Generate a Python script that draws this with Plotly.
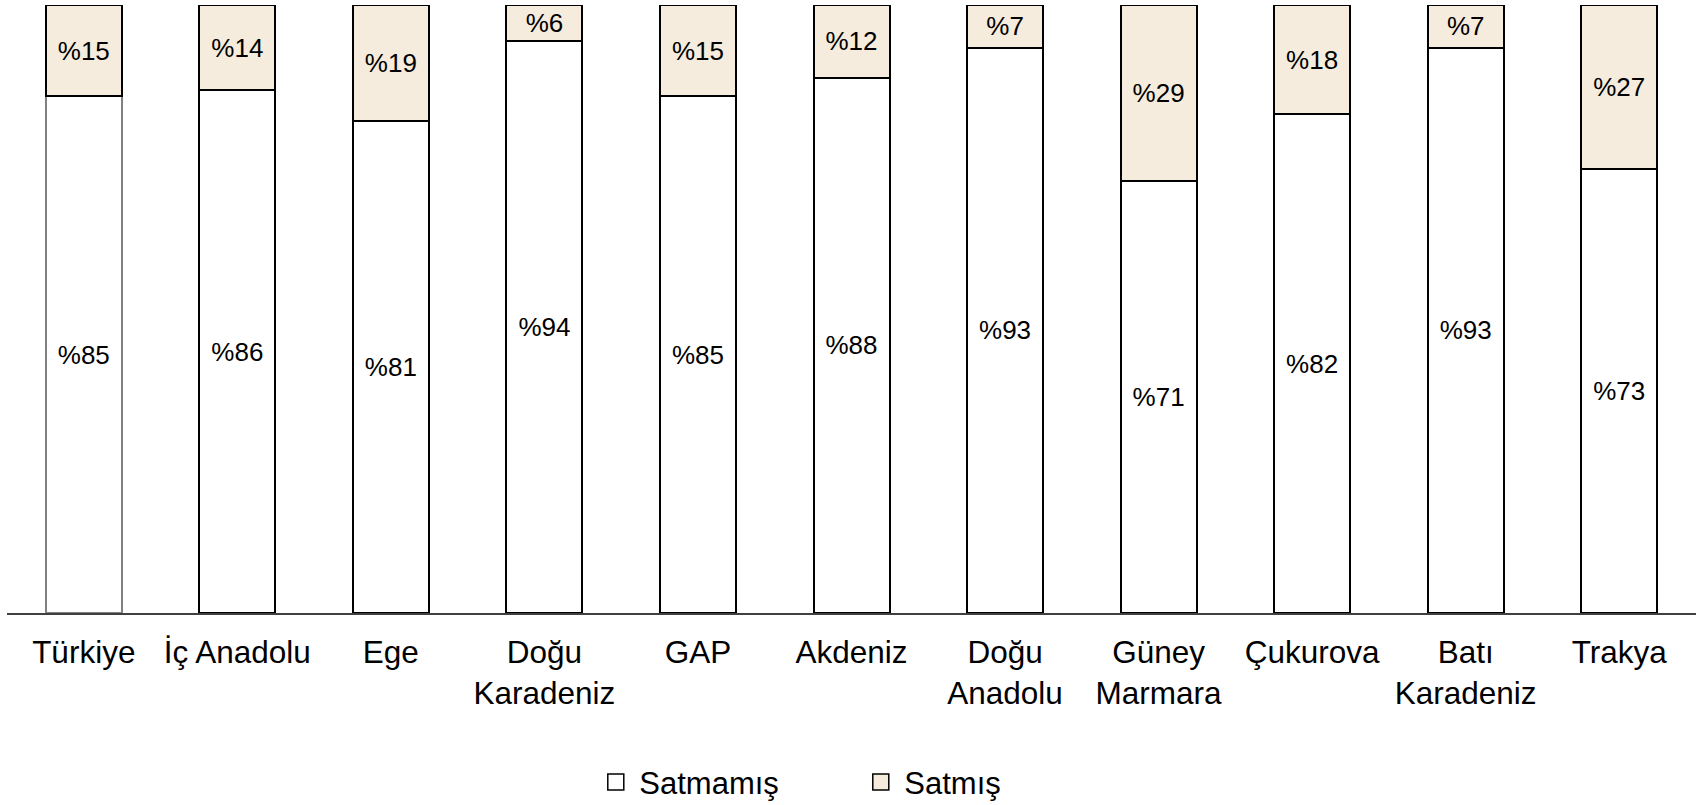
import plotly.graph_objects as go

categories = ["Türkiye", "İç Anadolu", "Ege", "Doğu<br>Karadeniz", "GAP", "Akdeniz",
              "Doğu<br>Anadolu", "Güney<br>Marmara", "Çukurova", "Batı<br>Karadeniz", "Trakya"]
satmamis = [85, 86, 81, 94, 85, 88, 93, 71, 82, 93, 73]
satmis = [15, 14, 19, 6, 15, 12, 7, 29, 18, 7, 27]

FONT = "Liberation Sans, Arial, sans-serif"
BEIGE = "#F6ECDD"

satmamis_line = ["#808080"] + ["#000000"] * (len(categories) - 1)

fig = go.Figure()
fig.add_trace(go.Bar(
    x=categories, y=satmamis, name="Satmamış", showlegend=False,
    marker=dict(color="white", line=dict(color=satmamis_line, width=2)),
    text=[f"%{v}" for v in satmamis], textposition="inside", insidetextanchor="middle",
    textfont=dict(family=FONT, size=26, color="black"), hoverinfo="skip",
))
fig.add_trace(go.Bar(
    x=categories, y=satmis, name="Satmış", showlegend=False,
    marker=dict(color=BEIGE, line=dict(color="black", width=2)),
    text=[f"%{v}" for v in satmis], textposition="inside", insidetextanchor="middle",
    textfont=dict(family=FONT, size=26, color="black"), hoverinfo="skip",
))
# legend entries
for nm, col in [("Satmamış", "white"), ("Satmış", BEIGE)]:
    fig.add_trace(go.Scatter(
        x=[None], y=[None], mode="markers", name=nm, showlegend=True,
        marker=dict(symbol="square", size=18, color=col, line=dict(color="black", width=1.5)),
    ))

fig.update_layout(
    width=1702, height=805,
    margin=dict(l=7, r=6, t=5, b=192),
    barmode="stack", bargap=0.505,
    plot_bgcolor="white", paper_bgcolor="white",
    font=dict(family=FONT, size=31.5, color="black"),
    uniformtext=dict(minsize=26, mode="show"),
    xaxis=dict(showline=True, linecolor="#404040", linewidth=2, ticks="", showgrid=False,
               tickfont=dict(family=FONT, size=31.5, color="black"), range=[-0.5, 10.5],
               ticklabelstandoff=10, fixedrange=True),
    yaxis=dict(range=[0, 100], visible=False, showgrid=False, zeroline=False),
    legend=dict(orientation="h", xref="container", yref="container",
                x=0.348, y=0.028, xanchor="left", yanchor="middle",
                traceorder="normal", itemwidth=37, itemsizing="trace",
                font=dict(family=FONT, size=31, color="black"),
                entrywidth=213, entrywidthmode="pixels"),
    showlegend=True,
)

fig.write_html("out.html", config={"displayModeBar": False},
               post_script="document.body.style.margin='0';")
